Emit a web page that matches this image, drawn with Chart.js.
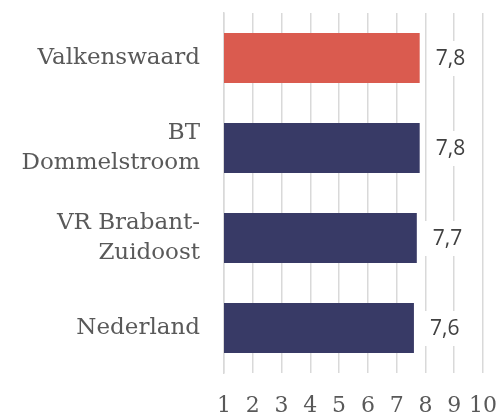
<!DOCTYPE html>
<html>
<head>
<meta charset="utf-8">
<script src="https://cdn.jsdelivr.net/npm/chart.js@4/dist/chart.umd.min.js"></script>
<style>
  html, body { margin: 0; padding: 0; background: #fff; }
  canvas { display: block; }
</style>
</head>
<body>
<canvas id="chart" width="497" height="416"></canvas>
<script>
/* ── Data ─────────────────────────────────────────────────── */
const categories = [
    'Valkenswaard',
    ['BT', 'Dommelstroom'],
    ['VR Brabant-', 'Zuidoost'],
    'Nederland',
];
const scores     = [7.8, 7.8, 7.7, 7.6];
const barColors  = ['#DA5B4F', '#383A66', '#383A66', '#383A66'];
const xTicks     = [1, 2, 3, 4, 5, 6, 7, 8, 9, 10];

const TEXT_GREY = '#595959';
const GRID_GREY = '#D9D9D9';

/* ── Value labels with white box behind ───────────────────── */
const valueLabels = {
    id: 'valueLabels',
    afterDatasetsDraw(chart) {
        const ctx  = chart.ctx;
        const meta = chart.getDatasetMeta(0);
        ctx.save();
        ctx.font = '21px "Open Sans", sans-serif';
        ctx.textBaseline = 'middle';
        ctx.textAlign = 'left';
        meta.data.forEach((bar, i) => {
            const txt = scores[i].toFixed(1).replace('.', ',');
            const w   = ctx.measureText(txt).width;
            const x0  = bar.x + 8;
            ctx.fillStyle = '#fff';
            ctx.fillRect(x0, bar.y - 17, w + 16, 35);
            ctx.fillStyle = '#404040';
            ctx.fillText(txt, x0 + 8, bar.y + 1);
        });
        ctx.restore();
    },
};

/* ── Chart ────────────────────────────────────────────────── */
new Chart(document.getElementById('chart'), {
    type: 'bar',
    data: {
        labels: categories,
        datasets: [{
            data: scores,
            backgroundColor: barColors,
            borderWidth: 0,
            barPercentage: 0.556,
            categoryPercentage: 1,
        }],
    },
    options: {
        indexAxis: 'y',
        responsive: false,
        animation: false,
        layout: { padding: { top: 13, right: 14, left: 0, bottom: 0 } },
        plugins: {
            legend:  { display: false },
            tooltip: { enabled: false },
        },
        scales: {
            x: {
                min: 1,
                max: 10,
                /* fixed axis band; drop the label overflow padding */
                afterFit: (s) => {
                    s.height = 43;
                    s.paddingLeft = 0;
                    s.paddingRight = 0;
                },
                afterBuildTicks: (s) => { s.ticks = xTicks.map(v => ({ value: v })); },
                grid:   { color: GRID_GREY, lineWidth: 1.5, drawTicks: false },
                border: { display: false },
                ticks: {
                    autoSkip: false,
                    maxRotation: 0,
                    padding: 20,
                    color: TEXT_GREY,
                    font: { family: '"DejaVu Serif", serif', size: 22 },
                },
            },
            y: {
                afterFit: (s) => {
                    s.width = 224;
                    s.paddingTop = 0;
                    s.paddingBottom = 0;
                },
                grid:   { display: false, drawTicks: false },
                border: { display: true, color: GRID_GREY, width: 1.5 },
                ticks: {
                    padding: 24,
                    color: TEXT_GREY,
                    font: { family: '"DejaVu Serif", serif', size: 23, lineHeight: 1.3 },
                },
            },
        },
    },
    plugins: [valueLabels],
});
</script>
</body>
</html>
